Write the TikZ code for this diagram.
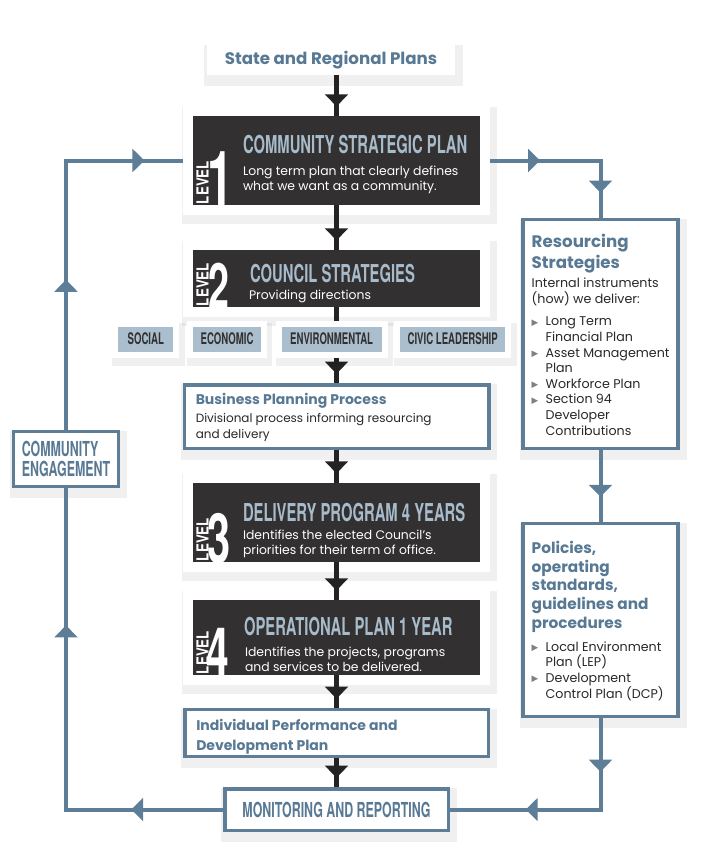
\documentclass[tikz,border=0pt]{standalone}
\usepackage{fontspec}
\setmainfont{Poppins}
\newfontfamily\bebas[FakeStretch=0.6]{TeX Gyre Heros}
\newfontfamily\levelfont[FakeStretch=0.8]{TeX Gyre Heros}
\newfontfamily\symfont{DejaVu Sans}
\usetikzlibrary{calc,positioning,arrows.meta,decorations.markings}
\definecolor{slate}{RGB}{94,125,150}
\definecolor{slatetxt}{RGB}{88,121,148}
\definecolor{ink}{RGB}{50,48,48}
\definecolor{pale}{RGB}{167,187,203}
\definecolor{tagfill}{RGB}{170,190,205}
\definecolor{arrowink}{RGB}{36,34,34}
\definecolor{bodytxt}{RGB}{40,40,40}
\newcommand{\bul}{\makebox[10.5pt][l]{\color{gray}\symfont\fontsize{6.5}{6.5}\selectfont\raisebox{.4pt}{▶}}}
\newcommand{\ind}{\hspace*{10.5pt}}
\newcommand{\tri}{\arrow{Triangle[width=17pt,length=9pt]}}

\begin{document}
\begin{tikzpicture}[x=0.75pt, y=-0.75pt,
  lift/.style={preaction={draw=black, draw opacity=.06, line width=#1, transform canvas={shift={(2pt,-4pt)}}}},
  level/.style={fill=ink, inner sep=0, minimum width=215.25pt, lift=21pt, preaction={draw=white, line width=15pt}},
  framebox/.style={draw=slate, line width=2.6pt, fill=white, inner sep=0, lift=9pt},
  tag/.style={fill=tagfill, text=ink, inner sep=0, minimum height=18.75pt, lift=13pt, preaction={draw=white, line width=9pt}, font=\bebas\bfseries\fontsize{12}{12}\selectfont},
  lvlword/.style={rotate=90, anchor=base west, inner sep=0, text=white, font=\levelfont\bfseries\fontsize{12.5}{12.5}\selectfont},
  lvlnum/.style={anchor=base west, inner sep=0, text=white, font=\bebas\bfseries\fontsize{#1}{#1}\selectfont},
  lvltitle/.style={anchor=base west, inner sep=0, text=pale, font=\bebas\bfseries\fontsize{18.5}{18.5}\selectfont},
  lvltext/.style={anchor=base west, inner sep=0, text=white, align=left, font=\fontsize{9.3}{11.5}\selectfont},
  bluehead/.style={anchor=base west, inner sep=0, text=slatetxt, align=left},
  sidetext/.style={anchor=base west, inner sep=0, text=bodytxt, align=left, font=\fontsize{9.5}{11.7}\selectfont},
  darrow/.style={draw=arrowink, line width=3.75pt, postaction={decorate}, decoration={markings, mark=at position -7pt with {\tri}}},
  bline/.style={draw=slate, line width=3pt, postaction={decorate}, decoration={markings, #1}}]

\useasboundingbox (0,0) rectangle (700,860);

\node[fill=white, lift=8pt, minimum width=186pt, minimum height=22.5pt, text=slatetxt, font=\bfseries\fontsize{12.5}{12.5}\selectfont] (state) at (331,60) {State and Regional Plans};
\node[level, minimum height=66.75pt] (l1) at (336.5,160.5) {};
\node[level, minimum height=42.75pt] (l2) at (336.5,278.5) {};
\node[framebox, minimum width=228.4pt, minimum height=47.6pt] (bpp) at (336.5,416.5) {};
\node[level, minimum height=59.25pt] (l3) at (336.5,522.5) {};
\node[level, minimum height=56.25pt] (l4) at (336.5,637.5) {};
\node[framebox, minimum width=227.6pt, minimum height=34.9pt] (ipd) at (336.5,733) {};
\node[framebox, minimum width=167.6pt, minimum height=31.1pt, text=slatetxt, font=\bebas\bfseries\fontsize{15.5}{15.5}\selectfont] (mr) at (336.5,809.5) {MONITORING AND REPORTING};
\node[framebox, minimum width=78.4pt, minimum height=40.9pt, align=left, text=slatetxt, font=\bebas\bfseries\fontsize{15.5}{15}\selectfont] (ce) at (66,459) {COMMUNITY\\ENGAGEMENT};
\node[framebox, minimum width=116pt, minimum height=171.4pt] (rs) at (600.5,334) {};
\node[framebox, minimum width=116pt, minimum height=144.4pt] (pol) at (600.5,620) {};

\draw[darrow] (l1.north |- state.south) -- (l1.north);
\draw[darrow] (l1) -- (l2);
\draw[darrow] (l2) -- (bpp);
\draw[darrow] (bpp) -- (l3);
\draw[darrow] (l3) -- (l4);
\draw[darrow] (l4) -- (ipd);
\draw[darrow] (ipd) -- (mr);

\node[tag, minimum width=41.25pt, anchor=west] (social) at (118,339) {SOCIAL};
\node[tag, minimum width=51pt, right=14.5pt of social] (economic) {ECONOMIC};
\node[tag, minimum width=75pt, right=15pt of economic] (environ) {ENVIRONMENTAL};
\node[tag, minimum width=78.75pt, right=13.5pt of environ] (civic) {CIVIC LEADERSHIP};

\node[lvlword] (w1) at ($(l1.south west)+(16,-1)$) {LEVEL};
\node[lvlnum=58] (n1) at ($(l1.south west)+(14,1)$) {1};
\node[lvltitle] (h1) at ($(l1.north west)+(50,38)$) {COMMUNITY STRATEGIC PLAN};
\node[lvltext] (s1) at ($(l1.north west)+(50,75)$) {Long term plan that clearly defines\\what we want as a community.};

\node[lvlword] (w2) at ($(l2.south west)+(16,-1)$) {LEVEL};
\node[lvlnum=47] (n2) at ($(l2.south west)+(15,1)$) {2};
\node[lvltitle] (h2) at ($(l2.north west)+(57,33)$) {COUNCIL STRATEGIES};
\node[lvltext] (s2) at ($(l2.north west)+(56,50)$) {Providing directions};

\node[lvlword] (w3) at ($(l3.south west)+(16,-1)$) {LEVEL};
\node[lvlnum=52] (n3) at ($(l3.south west)+(14,1)$) {3};
\node[lvltitle] (h3) at ($(l3.north west)+(50,39)$) {DELIVERY PROGRAM 4 YEARS};
\node[lvltext] (s3) at ($(l3.north west)+(50,72)$) {Identifies the elected Council’s\\priorities for their term of office.};

\node[lvlword] (w4) at ($(l4.south west)+(16,-1)$) {LEVEL};
\node[lvlnum=51] (n4) at ($(l4.south west)+(13,1)$) {4};
\node[lvltitle] (h4) at ($(l4.north west)+(51,36)$) {OPERATIONAL PLAN 1 YEAR};
\node[lvltext] (s4) at ($(l4.north west)+(52,72)$) {Identifies the projects, programs\\and services to be delivered.};

\node[bluehead, font=\bfseries\fontsize{10.5}{11}\selectfont] (bh) at ($(bpp.north west)+(13,21)$) {Business Planning Process};
\node[sidetext, font=\fontsize{9}{11.3}\selectfont] (bt) at ($(bpp.north west)+(13,55)$) {Divisional process informing resourcing\\and delivery};

\node[bluehead, font=\bfseries\fontsize{10.5}{15}\selectfont] (ih) at ($(ipd.north west)+(13,42)$) {Individual Performance and\\Development Plan};

\node[bluehead, font=\bfseries\fontsize{12.5}{15.75}\selectfont] (rh) at ($(rs.north west)+(10,50)$) {Resourcing\\Strategies};
\node[sidetext] (rt) at ($(rs.north west)+(10,85)$) {Internal instruments\\(how) we deliver:};
\node[sidetext] (rl) at ($(rs.north west)+(10,217)$) {\bul Long Term\\\ind Financial Plan\\\bul Asset Management\\\ind Plan\\\bul Workforce Plan\\\bul Section 94\\\ind Developer\\\ind Contributions};

\node[bluehead, font=\bfseries\fontsize{11.5}{13.9}\selectfont] (ph) at ($(pol.north west)+(10,106)$) {Policies,\\operating\\standards,\\guidelines and\\procedures};
\node[sidetext] (pl) at ($(pol.north west)+(10,176)$) {\bul Local Environment\\\ind Plan (LEP)\\\bul Development\\\ind Control Plan (DCP)};

\draw[bline={mark=at position .192 with {\tri}, mark=at position .713 with {\tri}}] (mr.west) -| (ce.south);
\draw[bline={mark=at position .389 with {\tri}, mark=at position .901 with {\tri}}] (ce.north) |- ($(l1.west)+(-10,0)$);
\draw[bline={mark=at position .297 with {\tri}, mark=at position .849 with {\tri}}] ($(l1.east)+(10,0)$) -| (rs.north);
\draw[bline={mark=at position .65 with {\tri}}] (rs.south) -- (pol.north);
\draw[bline={mark=at position .222 with {\tri}, mark=at position .687 with {\tri}}] (pol.south) |- (mr.east);
\end{tikzpicture}
\end{document}
